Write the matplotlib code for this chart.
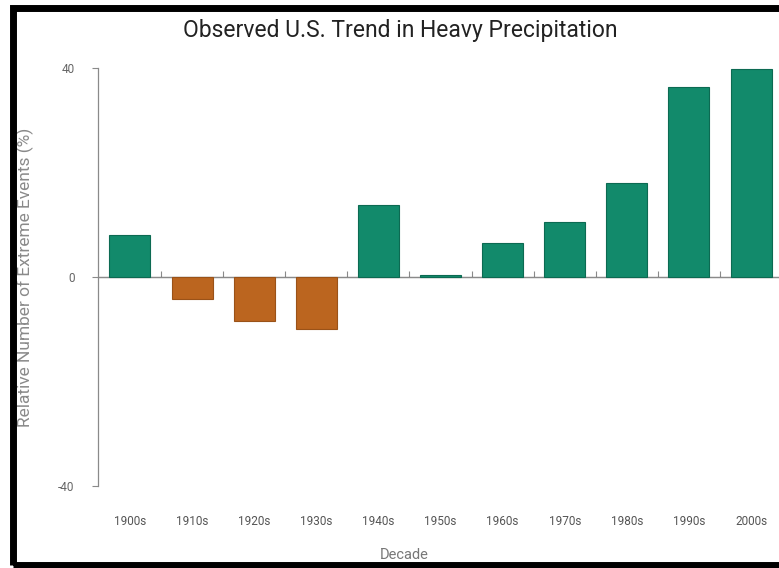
import numpy as np
import matplotlib
matplotlib.use('Agg')
import matplotlib.pyplot as plt
from matplotlib.patches import Rectangle

# data
decades = ['1900s', '1910s', '1920s', '1930s', '1940s', '1950s',
           '1960s', '1970s', '1980s', '1990s', '2000s']
values = [8, -4.3, -8.5, -10, 13.8, 0.4, 6.6, 10.6, 18, 36.4, 39.8]
y_ticks = [-40, 0, 40]

green = '#128a6b'
orange = '#bb651f'
gray = '#8a8a8a'

plt.rcParams['font.family'] = ['Roboto', 'DejaVu Sans']

fig = plt.figure(figsize=(7.79, 5.68), dpi=100)
fig.set_facecolor('white')

# axes placed so that the y axis sits at x=98px, 40 at y=68px, -40 at y=486px
ax = fig.add_axes([98 / 779, (568 - 486) / 568, 1 - 98 / 779, (486 - 68) / 568])
ax.set_facecolor('white')

x = np.arange(len(decades))
colors = [green if v >= 0 else orange for v in values]
edges = ['#0c6a52' if v >= 0 else '#9a5218' for v in values]
ax.bar(x, values, width=0.66, color=colors, edgecolor=edges, linewidth=0.8)

ax.set_xlim(-0.515, 10.45)
ax.set_ylim(-40, 40)

# y axis
ax.set_yticks(y_ticks)
ax.set_yticklabels([str(t) for t in y_ticks])
ax.tick_params(axis='y', colors=gray, labelsize=8.5, length=4, width=0.8, pad=13)
ax.tick_params(axis='y', labelcolor='#666666')
ax.spines['left'].set_color(gray)
ax.spines['left'].set_linewidth(0.9)
for s in ['top', 'right', 'bottom']:
    ax.spines[s].set_visible(False)

# x labels below the plot
ax.set_xticks(x)
ax.set_xticklabels(decades)
ax.tick_params(axis='x', length=0, labelsize=8.5, labelcolor='#555555', pad=21)

# baseline at zero with ticks between the bars
ax.axhline(0, color=gray, linewidth=0.9, zorder=0.5)
sec = ax.secondary_xaxis(0.5)
sec.set_xticks(x[:-1] + 0.5)
sec.set_xticklabels([])
sec.tick_params(axis='x', direction='out', length=4, width=0.8, colors=gray)
sec.spines['bottom'].set_visible(False)

ax.set_ylabel('Relative Number of Extreme Events (%)', color='#8a8a8a', fontsize=12.5)
ax.yaxis.set_label_coords(-0.094, 0.5)

fig.text(400 / 779, 1 - 30 / 568, 'Observed U.S. Trend in Heavy Precipitation',
         ha='center', va='center', fontsize=16.5, color='#222222')
fig.text(404 / 779, 1 - 555 / 568, 'Decade', ha='center', va='center',
         fontsize=10.5, color='#777777')

# black frame around the picture
fig.patches.append(Rectangle((13 / 779, 3 / 568), 1.0, 1 - 11 / 568,
                             transform=fig.transFigure, fill=False,
                             edgecolor='black', linewidth=5, zorder=10))

fig.savefig('out.png', dpi=100, facecolor=fig.get_facecolor())
